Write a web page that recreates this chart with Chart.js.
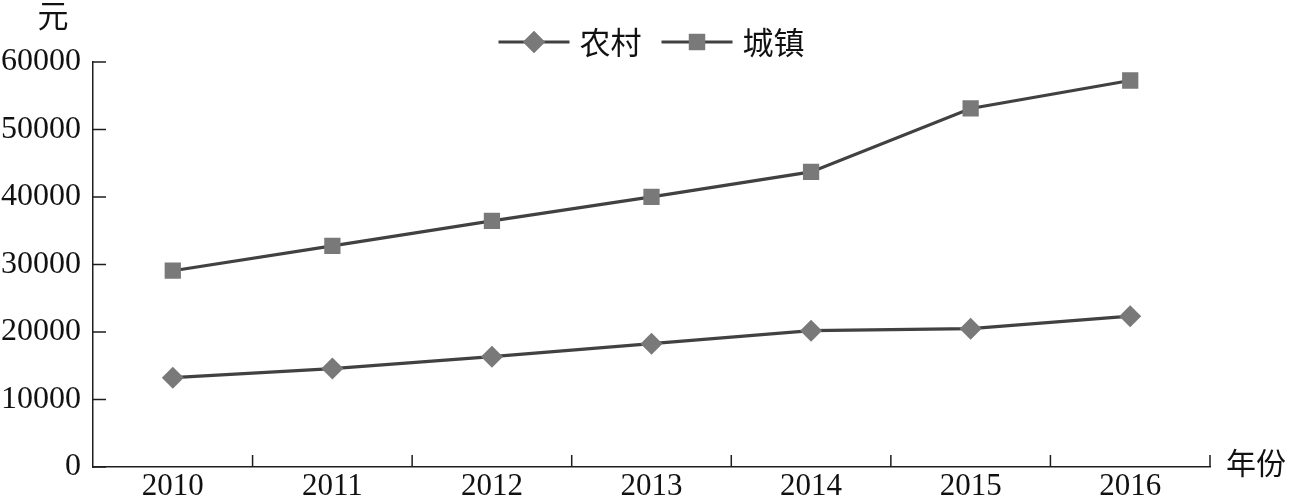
<!DOCTYPE html>
<html>
<head>
<meta charset="utf-8">
<script src="https://cdn.jsdelivr.net/npm/chart.js@4.4.1/dist/chart.umd.min.js"></script>
<style>
html,body{margin:0;padding:0;background:#fff;}
#wrap{width:1290px;height:499px;position:relative;}
</style>
</head>
<body>
<div id="wrap"><canvas id="c" width="1290" height="499"></canvas></div>
<script>
const categories = ['2010','2011','2012','2013','2014','2015','2016'];
const ruralValues = [13240, 14580, 16350, 18270, 20200, 20490, 22340];
const urbanValues = [29080, 32770, 36470, 40030, 43720, 53120, 57260];
const seriesNames = ['农村', '城镇'];
const yTickMax = 60000;
const yTickStep = 10000;
const yUnit = '元';
const xUnit = '年份';

const LINE = '#414141';
const MARK = '#797979';
const AXIS = '#1e1e1e';
const SERIF = "'Liberation Serif', 'DejaVu Serif', serif";
const CJK = "'Noto Sans CJK SC', sans-serif";

const inwardTicks = {
  id: 'inwardTicks',
  afterDraw(chart) {
    const ctx = chart.ctx, x = chart.scales.x, y = chart.scales.y, a = chart.chartArea;
    ctx.save();
    ctx.strokeStyle = AXIS;
    ctx.lineWidth = 1.5;
    ctx.beginPath();
    y.ticks.forEach((t, i) => {
      const py = y.getPixelForTick(i);
      ctx.moveTo(a.left, py); ctx.lineTo(a.left + 13, py);
    });
    const n = categories.length;
    for (let i = 0; i < n; i++) {
      let px;
      if (i < n - 1) px = (x.getPixelForTick(i) + x.getPixelForTick(i + 1)) / 2;
      else px = a.right;
      ctx.moveTo(px, a.bottom); ctx.lineTo(px, a.bottom - 12);
    }
    ctx.stroke();
    // unit labels
    ctx.fillStyle = '#111';
    ctx.font = '31px ' + CJK;
    ctx.textAlign = 'center';
    ctx.textBaseline = 'middle';
    ctx.fillText(yUnit, 53, 15);
    ctx.textAlign = 'left';
    ctx.font = '30px ' + CJK;
    ctx.fillText(xUnit, a.right + 16, a.bottom - 4);
    // legend
    ctx.font = '31px ' + CJK;
    const lineLen = 71, gapText = 10, gapItem = 20;
    const widths = chart.data.datasets.map(d => ctx.measureText(d.label).width);
    let total = 0;
    widths.forEach((w, i) => { total += lineLen + gapText + w + (i ? gapItem : 0); });
    let cx = (a.left + a.right) / 2 - total / 2;
    const ly = 42;
    chart.data.datasets.forEach((d, i) => {
      if (i) cx += gapItem;
      ctx.strokeStyle = d.borderColor;
      ctx.lineWidth = d.borderWidth;
      ctx.beginPath(); ctx.moveTo(cx, ly); ctx.lineTo(cx + lineLen, ly); ctx.stroke();
      ctx.fillStyle = d.pointBackgroundColor;
      Chart.helpers.drawPoint(ctx, {pointStyle: d.pointStyle, radius: d.pointRadius, borderWidth: 0, rotation: 0}, cx + lineLen / 2, ly);
      ctx.fill();
      ctx.fillStyle = '#111';
      ctx.textAlign = 'left';
      ctx.fillText(d.label, cx + lineLen + gapText, ly);
      cx += lineLen + gapText + widths[i];
    });
    ctx.restore();
  }
};

new Chart(document.getElementById('c'), {
  type: 'line',
  data: {
    labels: categories,
    datasets: [
      {label: seriesNames[0], data: ruralValues, borderColor: LINE, borderWidth: 3.2,
       pointStyle: 'rectRot', pointRadius: 11, pointBackgroundColor: MARK, pointBorderWidth: 0,
       pointBorderColor: MARK, tension: 0, fill: false},
      {label: seriesNames[1], data: urbanValues, borderColor: LINE, borderWidth: 3.2,
       pointStyle: 'rect', pointRadius: 11.5, pointBackgroundColor: MARK, pointBorderWidth: 0,
       pointBorderColor: MARK, tension: 0, fill: false}
    ]
  },
  options: {
    responsive: false,
    animation: false,
    devicePixelRatio: 1,
    layout: {padding: {top: 62, right: 80, left: 0, bottom: 0}},
    plugins: {legend: {display: false}, tooltip: {enabled: false}, title: {display: false}},
    scales: {
      x: {
        type: 'category',
        offset: true,
        grid: {display: false, drawTicks: false},
        border: {display: true, color: AXIS, width: 1.5},
        ticks: {color: '#111', font: {family: SERIF, size: 31}, padding: 1, maxRotation: 0, autoSkip: false},
        afterFit(s) { s.height = 32; }
      },
      y: {
        min: 0, max: yTickMax,
        grid: {display: false, drawTicks: false},
        border: {display: true, color: AXIS, width: 1.5},
        ticks: {stepSize: yTickStep, color: '#111', font: {family: SERIF, size: 32}, padding: 12,
                callback: v => String(v)},
        afterFit(s) { s.width = 93; }
      }
    }
  },
  plugins: [inwardTicks]
});
</script>
</body>
</html>
